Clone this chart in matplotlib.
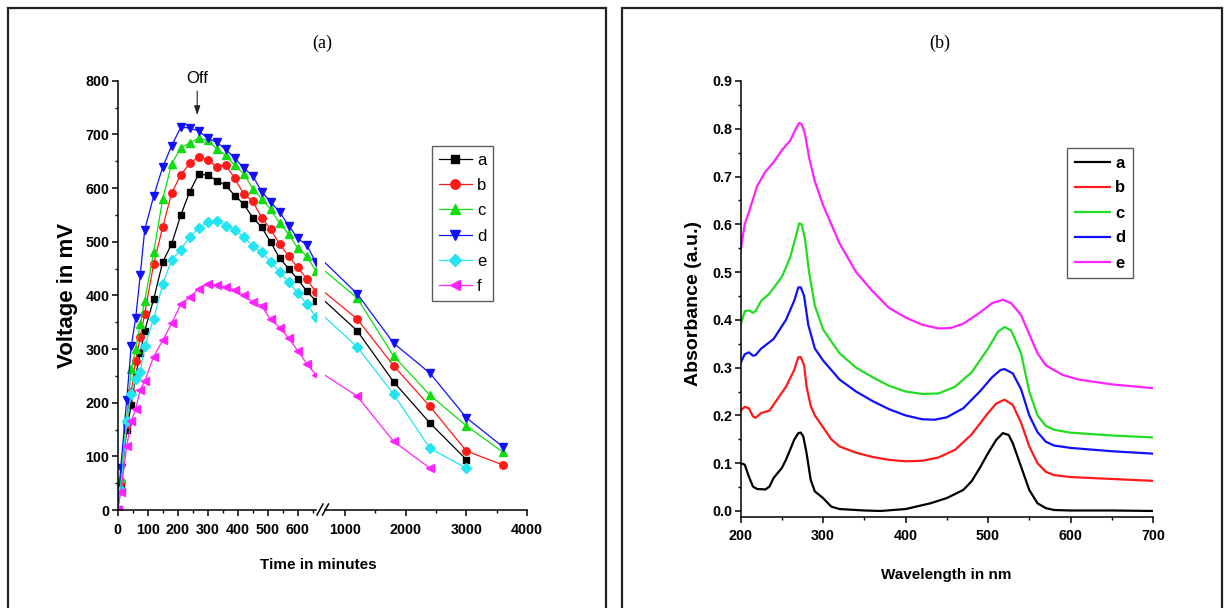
import numpy as np
import matplotlib
matplotlib.use("Agg")
import matplotlib.pyplot as plt
from matplotlib import font_manager
from matplotlib.patches import Rectangle
from matplotlib.lines import Line2D
from matplotlib.ticker import MultipleLocator, FixedLocator

# ---- data: (a) voltage vs time ----
time_min = [0, 10, 30, 45, 60, 75, 90, 120, 150, 180, 210, 240, 270, 300, 330, 360,
            390, 420, 450, 480, 510, 540, 570, 600, 630, 660, 1200, 1800, 2400, 3000, 3600]
volt_a = [0, 45, 150, 195, 250, 292, 334, 393, 462, 496, 549, 593, 626, 624, 614, 605,
          586, 570, 545, 527, 499, 469, 450, 430, 408, 390, 334, 239, 162, 94]
volt_b = [0, 53, 160, 220, 278, 322, 366, 459, 527, 591, 624, 646, 658, 653, 639, 643,
          618, 589, 575, 545, 523, 495, 473, 452, 431, 406, 356, 269, 193, 110, 84]
volt_c = [0, 60, 170, 262, 300, 346, 390, 480, 580, 645, 675, 684, 693, 689, 673, 661,
          642, 627, 599, 580, 560, 534, 514, 488, 473, 446, 395, 287, 214, 157, 108]
volt_d = [0, 78, 205, 305, 358, 437, 522, 585, 639, 679, 713, 712, 706, 693, 685, 672,
          656, 637, 623, 593, 574, 555, 530, 506, 494, 462, 403, 311, 255, 172, 118]
volt_e = [0, 38, 165, 216, 245, 258, 306, 356, 421, 466, 485, 509, 525, 536, 539, 530,
          522, 509, 492, 480, 463, 443, 425, 404, 384, 360, 304, 216, 115, 78]
volt_f = [0, 33, 119, 165, 188, 224, 240, 286, 316, 348, 383, 396, 412, 422, 419, 416,
          410, 400, 388, 380, 355, 340, 320, 297, 273, 252, 212, 128, 78]

# ---- data: (b) absorbance spectra ----
wl_a = [200, 205, 210, 215, 220, 230, 235, 240, 250, 255, 260, 265, 270, 273, 276, 280, 285,
        290, 300, 310, 320, 350, 370, 400, 430, 450, 470, 480, 490, 500, 510, 518, 525, 530,
        540, 550, 560, 570, 580, 600, 650, 700]
abs_a = [0.100, 0.097, 0.072, 0.051, 0.046, 0.045, 0.051, 0.069, 0.090, 0.107, 0.128, 0.149,
         0.163, 0.164, 0.156, 0.121, 0.065, 0.041, 0.027, 0.009, 0.004, 0.001, 0.000, 0.004,
         0.016, 0.027, 0.044, 0.062, 0.090, 0.121, 0.149, 0.163, 0.159, 0.142, 0.093, 0.044,
         0.016, 0.006, 0.002, 0.001, 0.001, 0.000]
wl_b = [200, 205, 210, 215, 218, 225, 235, 245, 255, 265, 270, 273, 277, 280, 285, 290, 300,
        310, 320, 340, 360, 380, 400, 420, 440, 460, 480, 500, 510, 520, 530, 540, 550, 560,
        570, 580, 600, 650, 700]
abs_b = [0.210, 0.218, 0.215, 0.198, 0.195, 0.205, 0.210, 0.235, 0.260, 0.295, 0.322, 0.322,
         0.305, 0.260, 0.220, 0.200, 0.175, 0.150, 0.135, 0.122, 0.113, 0.107, 0.104, 0.105,
         0.112, 0.128, 0.160, 0.205, 0.225, 0.233, 0.222, 0.185, 0.135, 0.100, 0.082, 0.075,
         0.071, 0.067, 0.063]
wl_c = [200, 205, 210, 215, 218, 225, 235, 250, 260, 267, 271, 274, 278, 283, 290, 300, 320,
        340, 360, 380, 400, 420, 440, 460, 480, 500, 512, 520, 528, 540, 550, 560, 570, 580,
        600, 650, 700]
abs_c = [0.390, 0.418, 0.420, 0.415, 0.418, 0.440, 0.455, 0.490, 0.530, 0.575, 0.602, 0.600,
         0.570, 0.500, 0.430, 0.380, 0.330, 0.300, 0.280, 0.262, 0.250, 0.245, 0.246, 0.260,
         0.290, 0.340, 0.375, 0.385, 0.378, 0.330, 0.250, 0.200, 0.178, 0.170, 0.164, 0.158,
         0.154]
wl_d = [200, 205, 210, 215, 218, 225, 240, 255, 265, 270, 273, 277, 282, 290, 300, 320, 340,
        360, 380, 400, 420, 435, 450, 470, 490, 505, 515, 520, 530, 540, 550, 560, 570, 580,
        600, 650, 700]
abs_d = [0.310, 0.328, 0.332, 0.325, 0.326, 0.340, 0.360, 0.400, 0.440, 0.468, 0.468, 0.450,
         0.390, 0.340, 0.315, 0.275, 0.250, 0.230, 0.213, 0.200, 0.192, 0.191, 0.196, 0.215,
         0.250, 0.280, 0.295, 0.297, 0.288, 0.255, 0.200, 0.165, 0.145, 0.137, 0.132, 0.125,
         0.120]
wl_e = [200, 205, 210, 220, 230, 240, 250, 260, 267, 271, 274, 278, 283, 290, 300, 320, 340,
        360, 380, 400, 420, 440, 455, 470, 490, 505, 518, 528, 540, 550, 560, 570, 590, 610,
        650, 700]
abs_e = [0.545, 0.600, 0.625, 0.680, 0.710, 0.730, 0.755, 0.775, 0.800, 0.812, 0.810, 0.790,
         0.740, 0.690, 0.640, 0.560, 0.500, 0.460, 0.425, 0.405, 0.390, 0.382, 0.383, 0.392,
         0.415, 0.435, 0.442, 0.435, 0.410, 0.370, 0.330, 0.305, 0.285, 0.275, 0.265, 0.257]

labels_a = ["a", "b", "c", "d", "e", "f"]
labels_b = ["a", "b", "c", "d", "e"]

W, H = 1225, 608
SANS = "Liberation Sans"
plt.rcParams["font.family"] = [SANS, "DejaVu Sans"]

fig = plt.figure(figsize=(W / 100, H / 100), dpi=100)
fig.patch.set_facecolor("white")


def box(x0, y0, x1, y1):
    return [x0 / W, 1 - y1 / H, (x1 - x0) / W, (y1 - y0) / H]


# panel frames
for x0, x1 in [(8, 606), (622, 1222)]:
    fig.add_artist(Rectangle((x0 / W, -0.05), (x1 - x0) / W, 1.05 - 8 / H,
                             transform=fig.transFigure, fill=False,
                             lw=1.6, ec="#222222"))

tick_fp = font_manager.FontProperties(family=[SANS, "DejaVu Sans"], weight="bold", size=10.3)


def style(ax, left=True):
    for s in ["top", "right"]:
        ax.spines[s].set_visible(False)
    if not left:
        ax.spines["left"].set_visible(False)
        ax.tick_params(axis="y", which="both", left=False, labelleft=False)
    for s in ax.spines.values():
        s.set_linewidth(1.1)
    ax.tick_params(which="major", direction="out", length=4, width=1.1, pad=2)
    ax.tick_params(which="minor", direction="out", length=2.3, width=1.0)
    ax.tick_params(axis="x", which="major", pad=5)
    for lab in ax.get_xticklabels() + ax.get_yticklabels():
        lab.set_fontproperties(tick_fp)


# ---- panel (a): broken x axis ----
ax1 = fig.add_axes(box(117.7, 80.7, 315.7, 510))
ax2 = fig.add_axes(box(325, 80.7, 527, 510))
ax2.patch.set_visible(False)

colors_a = ["#000000", "#ff1a1a", "#10dd10", "#1010ff", "#22e5f0", "#ff22ff"]
markers = ["s", "o", "^", "v", "D", "<"]
msizes = [4.6, 5.4, 6.0, 6.0, 5.0, 6.0]
series_a = [volt_a, volt_b, volt_c, volt_d, volt_e, volt_f]

for vals, c, m, ms, lab in zip(series_a, colors_a, markers, msizes, labels_a):
    t = time_min[:len(vals)]
    ax1.plot(t, vals, color=c, marker=m, ms=ms, lw=0.9, mec=c, label=lab)
    right_idx = [i for i, tt in enumerate(t) if tt >= 1000]
    ax2.plot(t, vals, color=c, marker=m, ms=ms, lw=0.9, mec=c, markevery=right_idx)

ax1.set_xlim(0, 660)
ax2.set_xlim(670, 4000)
for ax in (ax1, ax2):
    ax.set_ylim(0, 800)
ax1.xaxis.set_major_locator(FixedLocator([0, 100, 200, 300, 400, 500, 600]))
ax1.xaxis.set_minor_locator(FixedLocator([50, 150, 250, 350, 450, 550, 650]))
ax1.yaxis.set_major_locator(MultipleLocator(100))
ax1.yaxis.set_minor_locator(MultipleLocator(50))
ax2.xaxis.set_major_locator(FixedLocator([1000, 2000, 3000, 4000]))
ax2.xaxis.set_minor_locator(FixedLocator([1500, 2500, 3500]))
style(ax1)
style(ax2, left=False)

# break marks
for bx in (317, 322.5):
    fig.add_artist(Line2D([bx / W, (bx + 6) / W], [1 - 515 / H, 1 - 504 / H],
                          transform=fig.transFigure, color="black", lw=1.1))

ax1.annotate("Off", xy=(265, 736), xytext=(265, 805), ha="center", va="center",
             fontsize=12, annotation_clip=False,
             arrowprops=dict(arrowstyle="-|>,head_width=0.15,head_length=0.45",
                             color="#222222", lw=0.8, shrinkA=2, shrinkB=0))

h1, l1 = ax1.get_legend_handles_labels()
leg1 = ax2.legend(h1, l1, loc="upper left", bbox_to_anchor=(432 / W, 1 - 146 / H),
                  bbox_transform=fig.transFigure, frameon=True, fancybox=False,
                  edgecolor="#333333", fontsize=12, handlelength=2.0,
                  handletextpad=0.3, labelspacing=0.62, borderpad=0.4,
                  markerscale=1.25, borderaxespad=0)
leg1.get_frame().set_linewidth(1.0)

fig.text(322 / W, 1 - 43 / H, "(a)", family="Liberation Serif", fontsize=13,
         ha="center", va="center")
fig.text(68 / W, 1 - 295 / H, "Voltage in mV", rotation=90, ha="center", va="center",
         fontsize=16, weight="bold")
fig.text(318 / W, 1 - 565 / H, "Time in minutes", ha="center", va="center",
         fontsize=11, weight="bold")

# ---- panel (b): absorbance ----
ax3 = fig.add_axes(box(740.6, 81, 1153, 516.7))
colors_b = ["#000000", "#ff1a1a", "#22dd22", "#1010ff", "#ff22ff"]
spectra = [(wl_a, abs_a), (wl_b, abs_b), (wl_c, abs_c), (wl_d, abs_d), (wl_e, abs_e)]
for (wl, ab), c, lab in zip(spectra, colors_b, labels_b):
    ax3.plot(wl, ab, color=c, lw=1.6, label=lab)
ax3.set_xlim(200, 700)
ax3.set_ylim(-0.012, 0.9)
ax3.xaxis.set_major_locator(MultipleLocator(100))
ax3.xaxis.set_minor_locator(MultipleLocator(50))
ax3.yaxis.set_major_locator(FixedLocator([0.0, 0.1, 0.2, 0.3, 0.4, 0.5, 0.6, 0.7, 0.8, 0.9]))
ax3.yaxis.set_minor_locator(FixedLocator([0.05, 0.15, 0.25, 0.35, 0.45, 0.55, 0.65, 0.75, 0.85]))
ax3.set_yticklabels([f"{v:.1f}" for v in ax3.get_yticks()])
style(ax3)

leg2 = ax3.legend(loc="upper left", bbox_to_anchor=(1067 / W, 1 - 148 / H),
                  bbox_transform=fig.transFigure, frameon=True, fancybox=False,
                  edgecolor="#333333", handlelength=2.1, handletextpad=0.35,
                  labelspacing=0.6, borderpad=0.45, borderaxespad=0,
                  prop=dict(family=[SANS, "DejaVu Sans"], weight="bold", size=12))
leg2.get_frame().set_linewidth(1.0)

fig.text(940 / W, 1 - 43 / H, "(b)", family="Liberation Serif", fontsize=13,
         ha="center", va="center")
fig.text(693 / W, 1 - 303 / H, "Absorbance (a.u.)", rotation=90, ha="center", va="center",
         fontsize=14, weight="bold")
fig.text(946 / W, 1 - 575 / H, "Wavelength in nm", ha="center", va="center",
         fontsize=11, weight="bold")

fig.savefig("out.png", dpi=100)
